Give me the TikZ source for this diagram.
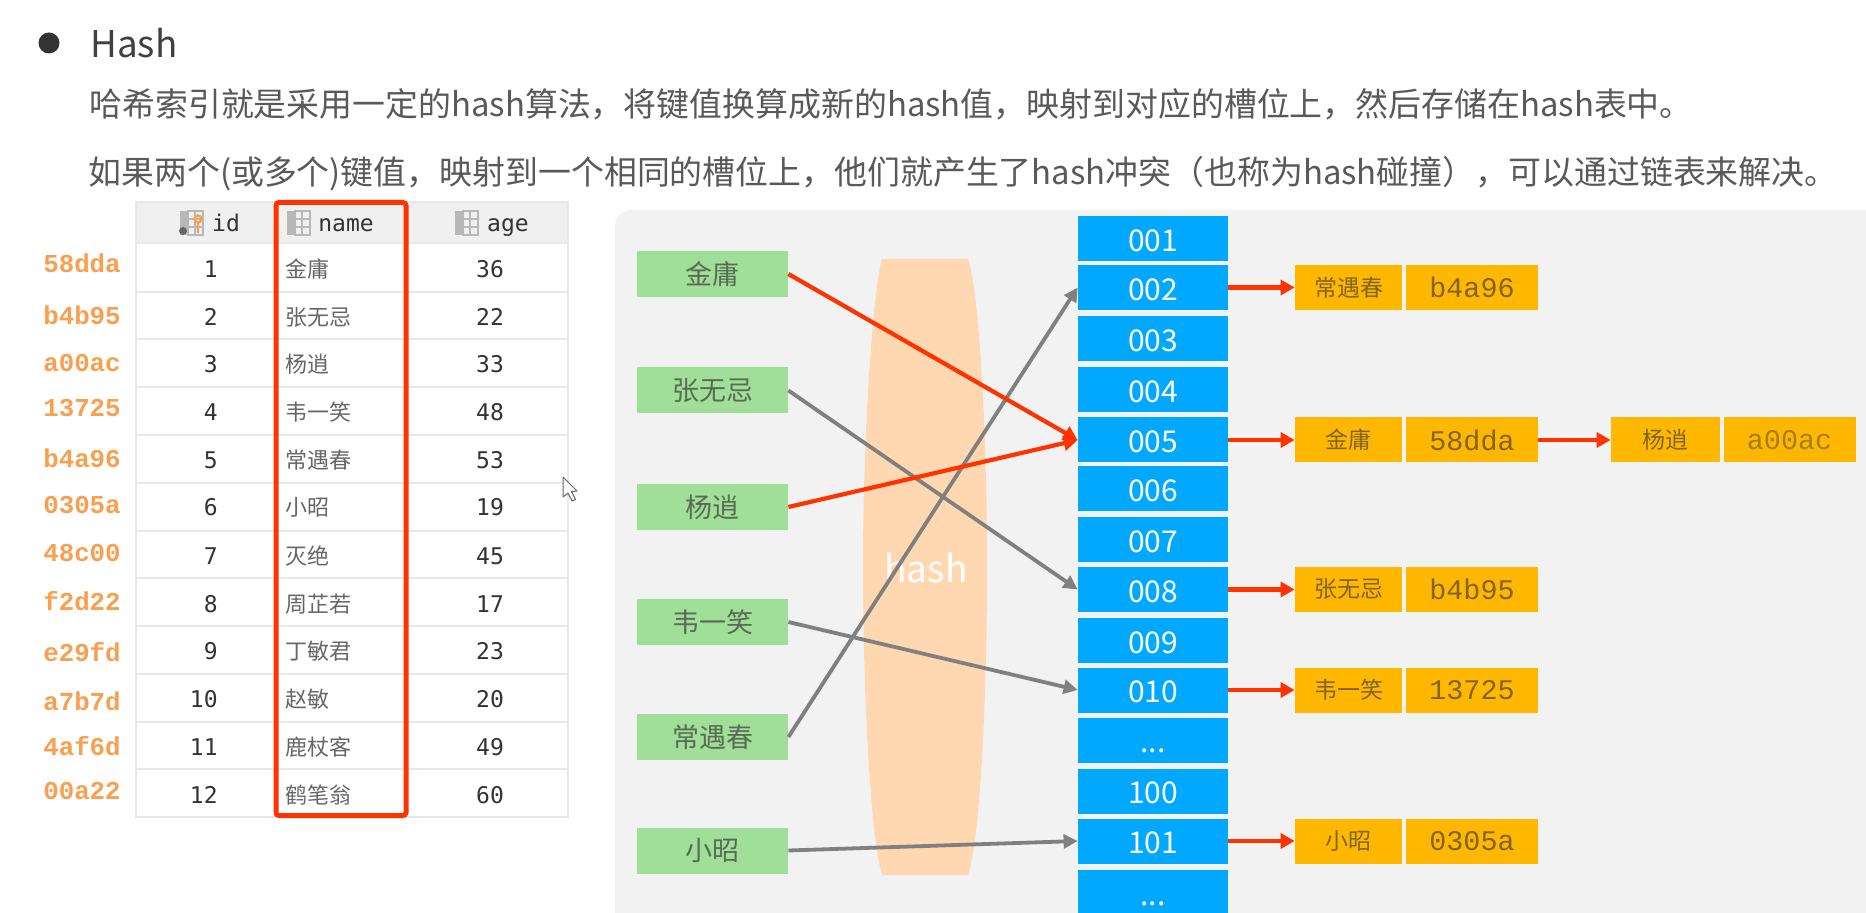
\documentclass[tikz,border=0pt]{standalone}
\usepackage{fontspec}
\setmainfont{Noto Sans CJK SC}
\newfontfamily\monokey{Liberation Mono}
\newfontfamily\monotab{DejaVu Sans Mono}
\usetikzlibrary{arrows.meta}
\definecolor{panelgray}{HTML}{F2F2F2}
\definecolor{bucketblue}{HTML}{00A9FF}
\definecolor{keygreen}{HTML}{9FDF98}
\definecolor{keytext}{HTML}{5A6B55}
\definecolor{chainorange}{HTML}{FFB700}
\definecolor{chaintext}{HTML}{80641F}
\definecolor{hashpeach}{HTML}{FFD8B2}
\definecolor{hotred}{HTML}{FF3300}
\definecolor{arrowgray}{HTML}{808080}
\definecolor{keyorange}{HTML}{F9A050}
\definecolor{rulegray}{HTML}{E8E8E8}
\newcommand{\gapdots}{...}
\newcommand{\wcomma}{\symbol{"FF0C}}
\newcommand{\wopen}{\symbol{"FF08}}
\newcommand{\wclose}{\symbol{"FF09}}
\tikzset{
  textline/.style={anchor=west, inner sep=0pt, text=black!65, font=\fontsize{16.45}{20}\selectfont},
  bucket/.style={fill=bucketblue, text=white, minimum width=75pt, minimum height=22.5pt, inner sep=0pt, text height=12.6pt, text depth=0pt, font=\fontsize{15}{17}\selectfont},
  keybox/.style={fill=keygreen, text=keytext, minimum width=75.5pt, minimum height=23pt, inner sep=0pt, font=\fontsize{13.5}{16}\selectfont},
  namebox/.style={fill=chainorange, text=chaintext, minimum width=53.5pt, minimum height=22.5pt, inner sep=0pt, font=\fontsize{11.5}{14}\selectfont},
  valbox/.style={fill=chainorange, text=chaintext, minimum width=66pt, minimum height=22.5pt, inner sep=0pt, font=\monokey\fontsize{14.2}{16}\selectfont},
  redarrow/.style={draw=hotred, line width=2.1pt, -{Triangle[length=7pt, width=7.5pt]}},
  grayarrow/.style={draw=arrowgray, line width=1.9pt, -{Triangle[length=7pt, width=7pt]}},
  rowkey/.style={text=keyorange, inner sep=0pt, font=\monokey\bfseries\fontsize{12.9}{15}\selectfont},
  cell/.style={text=black!80, inner sep=0pt, font=\monotab\fontsize{11.5}{14}\selectfont},
  namecell/.style={anchor=west, text=black!60, inner sep=0pt, font=\fontsize{11}{14}\selectfont},
  colicon/.pic={
    \fill[black!28] (0,0) rectangle (8,24);
    \draw[black!28, line width=.6pt] (8,0) rectangle (23,24) (8,8) -- (23,8) (8,16) -- (23,16) (15,0) -- (15,24);
  }
}
\begin{document}
\begin{tikzpicture}[x=0.5pt, y=-0.5pt]
  \useasboundingbox (0,0) rectangle (1866,913);
  \clip (0,0) rectangle (1866,913);
  \fill[white] (0,0) rectangle (1866,913);
  % heading
  \fill[black!80] (49,43) circle (10.5);
  \node[anchor=west, inner sep=0pt, text=black!75, font=\fontsize{18.4}{22}\selectfont] (title) at (90,43) {Hash};
  \node[textline] (lineone) at (89,104) {哈希索引就是采用一定的hash算法\wcomma 将键值换算成新的hash值\wcomma 映射到对应的槽位上\wcomma 然后存储在hash表中。};
  \node[textline] (linetwo) at (88,174) {如果两个(或多个)键值\wcomma 映射到一个相同的槽位上\wcomma 他们就产生了hash冲突\wopen 也称为hash碰撞\wclose\wcomma 可以通过链表来解决。};
  % table
  \fill[black!6] (136,202) rectangle (568,243);
  \draw[rulegray, line width=.7pt] (136,202) rectangle (568,817);
  \foreach \y in {243,292,339,387,435,483,531,578,626,674,722,769} \draw[rulegray, line width=.7pt] (136,\y) -- (568,\y);
  \pic at (180,211) {colicon};
  \pic at (287,211) {colicon};
  \pic at (455,211) {colicon};
  \fill[black!60] (183,231) circle (4);
  \draw[keyorange, line width=1.2pt] (198,219) circle (3.5) (198,223) -- (198,233);
  \node[cell, anchor=base] (hid) at (226,232) {id};
  \node[cell, anchor=base] (hname) at (346,232) {name};
  \node[cell, anchor=base] (hage) at (508,232) {age};
  \foreach \y/\ky/\id/\key/\who/\age in {269/263/1/58dda/金庸/36, 317/315/2/b4b95/张无忌/22, 364/363/3/a00ac/杨逍/33,
      412/408/4/13725/韦一笑/48, 460/458/5/b4a96/常遇春/53, 507/505/6/0305a/小昭/19, 556/553/7/48c00/灭绝/45,
      604/601/8/f2d22/周芷若/17, 651/652/9/e29fd/丁敏君/23, 699/701/10/a7b7d/赵敏/20, 747/746/11/4af6d/鹿杖客/49, 795/791/12/00a22/鹤笔翁/60} {
    \node[rowkey] (rk\id) at (82,\ky) {\key};
    \node[cell, anchor=east] (rid\id) at (218,\y) {\id};
    \node[namecell] (rn\id) at (285,\y) {\who};
    \node[cell] (ra\id) at (490,\y) {\age};
  }
  \draw[hotred, line width=2.5pt, rounded corners=1.5pt] (276,202.5) rectangle (406,815.5);
  % cursor
  \draw[black!60, fill=white, line width=.5pt, line join=round] (563,477) -- (563,497) -- (568,493) -- (572,501) -- (575.5,499.5) -- (571.5,491.5) -- (577,491) -- cycle;
  % right panel
  \fill[panelgray, rounded corners=8pt] (615,210) rectangle (1900,960);
  \fill[hashpeach] (882,259) .. controls (873,290) and (863,430) .. (863,567)
    .. controls (863,700) and (871,840) .. (882,875) -- (968,875)
    .. controls (980,840) and (987,700) .. (987,567)
    .. controls (987,430) and (979,290) .. (968,259) -- cycle;
  \node[inner sep=0pt, text=white, font=\fontsize{18.5}{22}\selectfont] (hashlab) at (926,568) {hash};
  % buckets
  \foreach \nm/\y/\lab in {b001/238.5/001, b002/287.5/002, b003/338.5/003, b004/389.5/004, b005/440/005, b006/489/006,
      b007/539.5/007, b008/589.5/008, b009/640.5/009, b010/690/010, bgap/740/\gapdots, b100/791/100, b101/841/101, bend/892.5/\gapdots} {
    \node[bucket] (\nm) at (1153,\y) {\lab};
  }
  % keys
  \foreach \nm/\y/\lab in {kjin/274/金庸, kzhang/390.5/张无忌, kyang/507/杨逍, kwei/622/韦一笑, kchang/737/常遇春, kxiao/850.5/小昭} {
    \node[keybox] (\nm) at (712.5,\y) {\lab};
  }
  % chains
  \foreach \nm/\y/\who/\key in {c002/287.5/常遇春/b4a96, c005/440/金庸/58dda, c008/589.5/张无忌/b4b95, c010/690/韦一笑/13725, c101/841/小昭/0305a} {
    \node[namebox] (n\nm) at (1348.5,\y) {\who};
    \node[valbox] (v\nm) at (1472,\y) {\key};
  }
  \node[namebox, minimum width=54.5pt] (nnext) at (1665.5,440) {杨逍};
  \node[valbox, text=chaintext!70!chainorange] (vnext) at (1789.5,440) {a00ac};
  % hash arrows
  \foreach \a/\b in {kzhang/b008, kwei/b010, kchang/b002, kxiao/b101} \draw[grayarrow] (\a.east) -- (\b.west);
  \foreach \a/\b in {kjin/b005, kyang/b005} \draw[redarrow] (\a.east) -- (\b.west);
  \foreach \a/\b in {b002/nc002, b005/nc005, b008/nc008, b010/nc010, b101/nc101, vc005/nnext} \draw[redarrow] (\a.east) -- (\b.west);
\end{tikzpicture}
\end{document}
